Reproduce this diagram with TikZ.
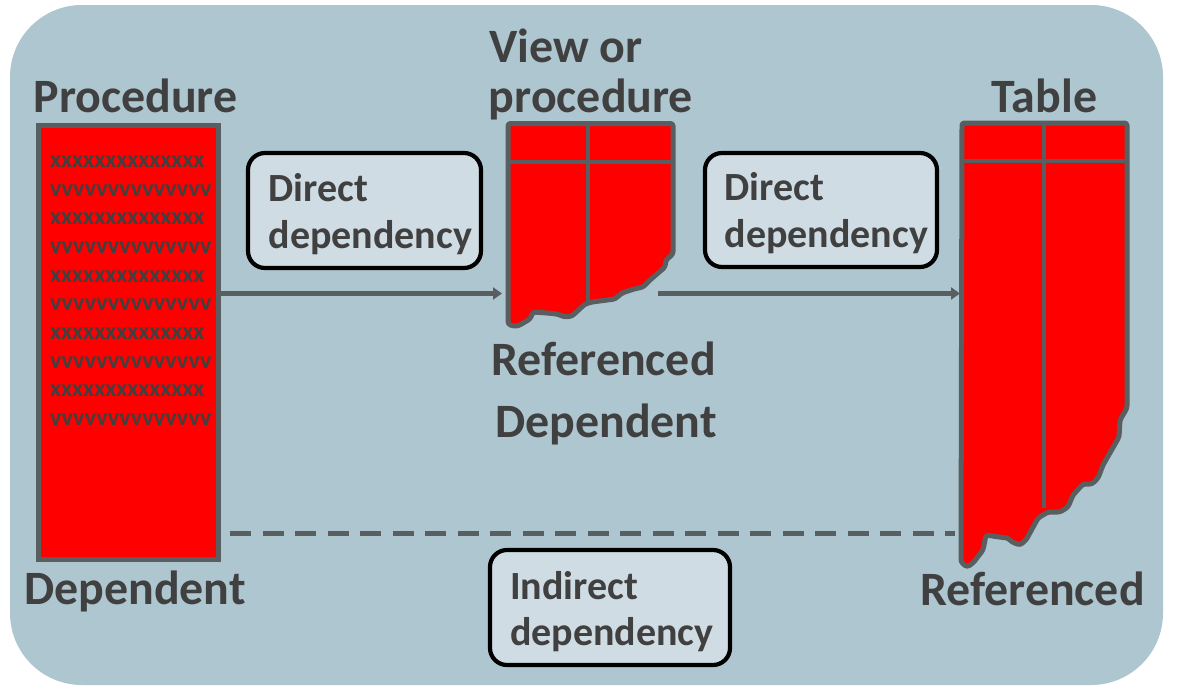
\documentclass[tikz,border=0pt]{standalone}
\usepackage{fontspec}
\setmainfont{Carlito}
\usetikzlibrary{arrows.meta}
\definecolor{panel}{HTML}{AEC6CF}
\definecolor{boxfill}{HTML}{D0DCE4}
\definecolor{ink}{HTML}{404040}
\definecolor{edge}{HTML}{595F60}
\tikzset{
  x=1pt,y=-1pt,
  head/.style={font=\fontsize{47.9}{47.9}\selectfont\bfseries,text=ink,inner sep=0pt,anchor=base},
  lab/.style={font=\fontsize{40}{46.5}\selectfont\bfseries,text=ink,align=left,inner sep=0pt,anchor=north west},
  dep/.style={draw=black,line width=4.2pt,rounded corners=17pt,fill=boxfill},
  sheet/.style={draw=edge,line width=5pt,fill=red,line join=round,rounded corners=2.5pt},
  rule/.style={draw=edge,line width=4.4pt},
  link/.style={draw=edge,line width=4.2pt,-{Triangle[length=9pt,width=12pt]}},
  tiny/.style={font=\fontsize{24}{24}\selectfont\bfseries,text=ink,inner sep=0pt,anchor=base west},
}
\begin{document}
\begin{tikzpicture}
\useasboundingbox (0,0) rectangle (1177,696);
\fill[white] (0,0) rectangle (1177,696);
\fill[panel,rounded corners=72pt] (10,5) rectangle (1163,685);

% procedure
\node[draw=edge,line width=5pt,fill=red,outer sep=0pt,minimum width=180pt,minimum height=434pt,inner sep=0pt,anchor=north west] (proc) at (38.5,125) {};
\node[tiny] (l1) at (50,167) {xxxxxxxxxxxxxx};
\node[tiny] (l2) at (50,196) {vvvvvvvvvvvvvv};
\node[tiny] (l3) at (50,224) {xxxxxxxxxxxxxx};
\node[tiny] (l4) at (50,253) {vvvvvvvvvvvvvv};
\node[tiny] (l5) at (50,282) {xxxxxxxxxxxxxx};
\node[tiny] (l6) at (50,310) {vvvvvvvvvvvvvv};
\node[tiny] (l7) at (50,339) {xxxxxxxxxxxxxx};
\node[tiny] (l8) at (50,368) {vvvvvvvvvvvvvv};
\node[tiny] (l9) at (50,396) {xxxxxxxxxxxxxx};
\node[tiny] (l10) at (50,425) {vvvvvvvvvvvvvv};

% view sheet
\draw[sheet] (508,123.5) -- (673,123.5) -- (673,254) -- (666,260) -- (665,267) -- (650,280) -- (643,287) -- (634,289) -- (622,293) -- (615,299) -- (592,302) -- (585,304) -- (572,316) -- (565,317) -- (557,314) -- (547,313) -- (533,312) -- (530,319) -- (518,326) -- (513,326) -- (508,324) -- cycle;
\draw[rule] (509,162) -- (672,162);
\draw[rule] (588,124) -- (588,302);

% table sheet
\draw[sheet] (962,123) -- (1127,123) -- (1127,408) -- (1120,420) -- (1119,437) -- (1103,465) -- (1098,478) -- (1092,484) -- (1083,484) -- (1073,495) -- (1068,507) -- (1060,512) -- (1048,512) -- (1038,518) -- (1026,540) -- (1020,545) -- (1012,542) -- (1008,538) -- (999,537) -- (986,535) -- (983,550) -- (973,563) -- (967,567) -- (961,562) -- cycle;
\draw[rule] (963,161) -- (1126,161);
\draw[rule] (1044,124) -- (1044,508);

% connectors
\coordinate (a1s) at (220,293.5);
\coordinate (a1e) at (502,293.5);
\coordinate (a2s) at (658,293.5);
\coordinate (a2e) at (960,293.5);
\coordinate (d1) at (230,533);
\coordinate (d2) at (955,533);
\draw[link] (a1s) -- (a1e);
\draw[link] (a2s) -- (a2e);
\draw[draw=edge,line width=5pt,dash pattern=on 21pt off 11.5pt] (d1) -- (d2);

% dependency boxes
\draw[dep] (248,153) rectangle (481,268);
\draw[dep] (705,153) rectangle (937,267);
\draw[dep] (490,550) rectangle (730,665);
\node[lab] (b1) at (268.5,173.5) {Direct\\dependency};
\node[lab] (b2) at (724.5,172.5) {Direct\\dependency};
\node[lab] (b3) at (510,571) {Indirect\\dependency};

% headings
\node[head] (h1) at (135.5,112) {Procedure};
\node[head] (h2) at (566,62) {View or};
\node[head] (h3) at (591,112) {procedure};
\node[head] (h4) at (1044.5,112) {Table};
\node[head] (h5) at (603.5,375.5) {Referenced};
\node[head] (h6) at (606,437.5) {Dependent};
\node[head] (h7) at (135,604) {Dependent};
\node[head] (h8) at (1032.5,605) {Referenced};
\end{tikzpicture}
\end{document}
